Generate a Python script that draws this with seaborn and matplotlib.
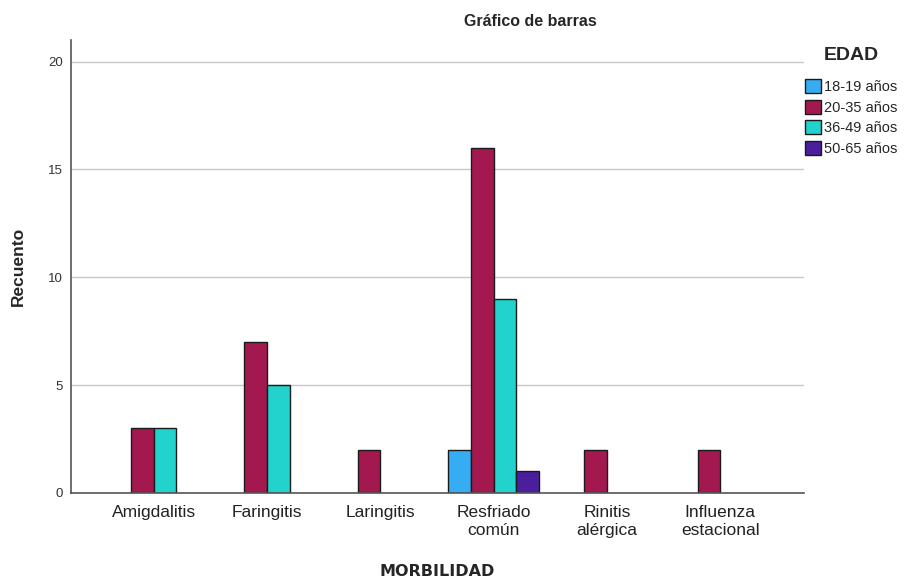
import pandas as pd
import matplotlib
matplotlib.use("Agg")
import matplotlib.pyplot as plt
import seaborn as sns

# DATA
categories = ["Amigdalitis", "Faringitis", "Laringitis", "Resfriado\ncomún",
              "Rinitis\nalérgica", "Influenza\nestacional"]
age_groups = ["18-19 años", "20-35 años", "36-49 años", "50-65 años"]
counts_18_19 = [0, 0, 0, 2, 0, 0]
counts_20_35 = [3, 7, 2, 16, 2, 2]
counts_36_49 = [3, 5, 0, 9, 0, 0]
counts_50_65 = [0, 0, 0, 1, 0, 0]

rows = []
for group, vals in zip(age_groups, [counts_18_19, counts_20_35, counts_36_49, counts_50_65]):
    for cat, v in zip(categories, vals):
        if v > 0:
            rows.append({"MORBILIDAD": cat, "EDAD": group, "Recuento": v})
df = pd.DataFrame(rows)

colors = ["#36adf2", "#a3194f", "#22d2cc", "#4a1e9c"]

# PLOTTING
sns.set_style("white")
plt.rcParams["font.family"] = ["Liberation Sans", "DejaVu Sans"]

fig = plt.figure(figsize=(9.09, 5.81), dpi=100)
ax = fig.add_axes([0.078, 0.1515, 0.8065, 0.7795])

sns.barplot(data=df, x="MORBILIDAD", y="Recuento", hue="EDAD",
            order=categories, hue_order=age_groups, palette=colors,
            saturation=1, width=0.8, dodge=True, edgecolor="#1a1a1a",
            linewidth=1.0, legend=True, ax=ax)

ax.set_xlim(-0.73, 5.74)
ax.set_ylim(0, 21)
ax.set_yticks([0, 5, 10, 15, 20])
ax.yaxis.grid(True, color="#c8c8c8", linewidth=1.0)
ax.set_axisbelow(True)
for side in ["top", "right"]:
    ax.spines[side].set_visible(False)
for side in ["left", "bottom"]:
    ax.spines[side].set_color("#555555")
    ax.spines[side].set_linewidth(1.2)

ax.tick_params(axis="y", labelsize=9.5, colors="#333333", length=0, pad=6)
ax.tick_params(axis="x", labelsize=12.5, colors="#222222", length=0, pad=9)
for lbl in ax.get_xticklabels():
    lbl.set_linespacing(1.25)

ax.set_xlabel("")
ax.set_ylabel("Recuento", fontsize=12.5, fontweight="bold")
ax.yaxis.set_label_coords(-0.061, 0.5)

fig.text(437 / 909, 1 - 571 / 581, "MORBILIDAD", fontsize=11.5, fontweight="bold",
         family="DejaVu Sans", ha="center", va="center")
fig.text(530 / 909, 1 - 22 / 581, "Gráfico de barras", fontsize=11.5,
         fontweight="bold", ha="center", va="center")

ax.get_legend().remove()
handles = [plt.Rectangle((0, 0), 1, 1, facecolor=c, edgecolor="#1a1a1a", linewidth=1.0)
           for c in colors]
leg = fig.legend(handles, age_groups, title="EDAD", loc="upper left",
                 bbox_to_anchor=(0.879, 0.93), frameon=False, fontsize=10.5,
                 handlelength=1.1, handleheight=1.1, handletextpad=0.2,
                 labelspacing=0.4, borderaxespad=0)
leg.get_title().set_fontweight("bold")
leg.get_title().set_fontsize(14)
leg._legend_box.sep = 11

plt.savefig("out.png", dpi=100)
